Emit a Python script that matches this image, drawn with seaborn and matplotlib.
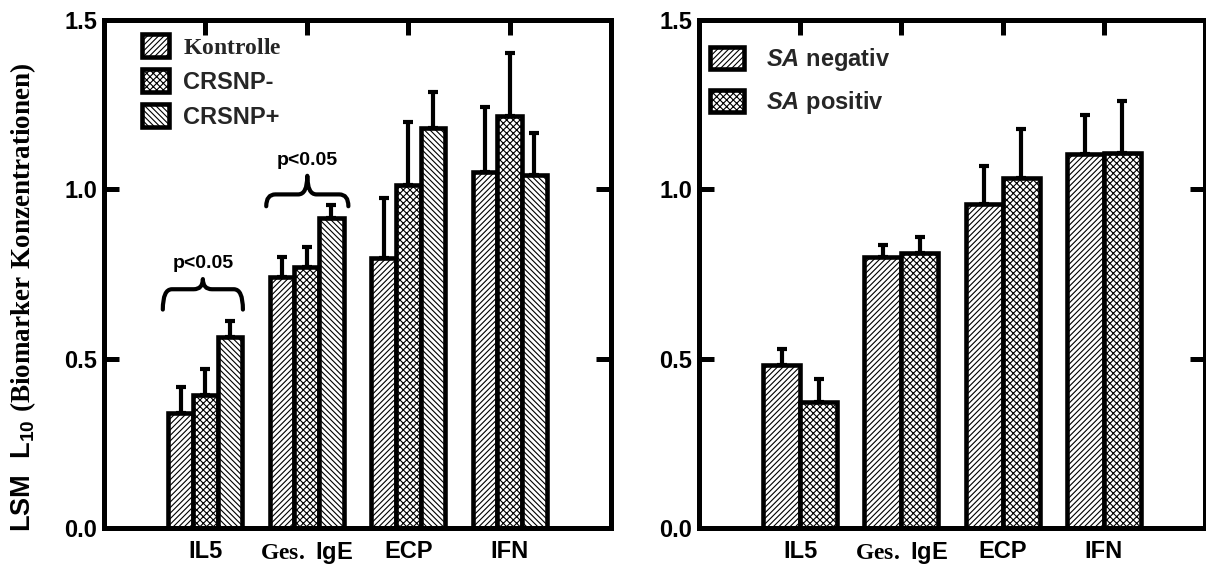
import numpy as np
import pandas as pd
import matplotlib
matplotlib.use("Agg")
import matplotlib.pyplot as plt
from matplotlib.patches import Patch, PathPatch
from matplotlib.path import Path
import seaborn as sns

# ---------------- data ----------------
categories = ["IL5", "Ges. IgE", "ECP", "IFN"]
cat_labels = ["IL5", r"$\mathrm{Ges.}\ \mathbf{IgE}$", "ECP", "IFN"]

left_groups = ["Kontrolle", "CRSNP-", "CRSNP+"]
left_labels = [r"$\mathrm{Kontrolle}$", "CRSNP-", "CRSNP+"]
kontrolle = [0.340, 0.741, 0.797, 1.051]
kontrolle_se = [0.076, 0.060, 0.177, 0.192]
crsnp_minus = [0.393, 0.771, 1.013, 1.216]
crsnp_minus_se = [0.076, 0.060, 0.186, 0.186]
crsnp_plus = [0.564, 0.915, 1.181, 1.042]
crsnp_plus_se = [0.047, 0.040, 0.106, 0.124]

right_groups = ["SA negativ", "SA positiv"]
right_labels = [r"$\mathit{SA}\ \mathbf{negativ}$", r"$\mathit{SA}\ \mathbf{positiv}$"]
sa_neg = [0.481, 0.800, 0.957, 1.104]
sa_neg_se = [0.047, 0.036, 0.113, 0.115]
sa_pos = [0.372, 0.812, 1.034, 1.107]
sa_pos_se = [0.068, 0.047, 0.145, 0.155]

yticks = [0.0, 0.5, 1.0, 1.5]
ytick_labels = ["0.0", "0.5", "1.0", "1.5"]

# significance braces (left panel): x-range, horizontal level, tip, end, text
sig_x0 = [-0.42, 0.60]
sig_x1 = [0.37, 1.41]
sig_yh = [0.705, 0.985]
sig_tip = [0.735, 1.040]
sig_end = [0.645, 0.950]
sig_text_y = [0.78, 1.085]
sig_text = ["p<0.05", "p<0.05"]

# ---------------- style ----------------
sns.set_theme(style="white")
plt.rcParams["font.family"] = ["Liberation Sans", "DejaVu Sans"]
plt.rcParams["font.weight"] = "bold"
plt.rcParams["mathtext.fontset"] = "custom"
plt.rcParams["mathtext.rm"] = "Liberation Serif:bold"
plt.rcParams["mathtext.bf"] = "Liberation Sans:bold"
plt.rcParams["mathtext.it"] = "Liberation Sans:bold:italic"
plt.rcParams["hatch.linewidth"] = 0.8
plt.rcParams["hatch.color"] = "black"

hatches_left = ["//////", "xxxxx", "\\\\\\\\\\\\"]
hatches_right = ["//////", "xxxxx"]

fig = plt.figure(figsize=(12.06, 5.67), dpi=100)
ax1 = fig.add_axes([104 / 1206, 39 / 567, 507 / 1206, 508 / 567])
ax2 = fig.add_axes([699 / 1206, 39 / 567, 506 / 1206, 508 / 567])

EDGE_LW = 3.3
FS = 17


def draw_panel(ax, groups, means, ses, hatches, labels):
    df = pd.DataFrame({
        "cat": np.repeat(categories, len(groups)),
        "grp": groups * len(categories),
        "val": np.array(means).T.ravel(),
    })
    sns.barplot(data=df, x="cat", y="val", hue="grp", order=categories,
                hue_order=groups, palette=["white"] * len(groups),
                width=0.73, errorbar=None, ax=ax, legend=False,
                edgecolor="black", linewidth=EDGE_LW, saturation=1)
    for cont, h, m, s in zip(ax.containers, hatches, means, ses):
        xs = []
        for bar in cont:
            bar.set_hatch(h)
            bar.set_edgecolor("black")
            bar.set_facecolor("white")
            bar.set_linewidth(EDGE_LW)
            xs.append(bar.get_x() + bar.get_width() / 2)
        ax.errorbar(xs, m, yerr=[np.zeros(len(s)), s], fmt="none",
                    ecolor="black", elinewidth=3.0, capsize=3.5,
                    capthick=3.0, zorder=1)
    handles = [Patch(facecolor="white", edgecolor="black", hatch=h,
                     linewidth=EDGE_LW, label=l) for h, l in zip(hatches, labels)]
    ax.set_xlim(-1, 4)
    ax.set_ylim(0, 1.5)
    ax.set_yticks(yticks)
    ax.set_yticklabels(ytick_labels)
    ax.set_xticks(range(len(categories)))
    ax.set_xticklabels(cat_labels)
    ax.set_xlabel("")
    ax.set_ylabel("")
    for sp in ax.spines.values():
        sp.set_visible(True)
        sp.set_linewidth(3.6)
        sp.set_color("black")
    ax.tick_params(axis="y", direction="in", left=True, right=True,
                   length=11, width=3.6, labelsize=FS, pad=5, colors="black")
    ax.tick_params(axis="x", direction="in", top=True, bottom=False,
                   labelbottom=True, length=11, width=3.6, labelsize=FS,
                   pad=9, colors="black")
    for t in ax.get_xticklabels() + ax.get_yticklabels():
        t.set_fontweight("bold")
    return handles


h1 = draw_panel(ax1, left_groups, [kontrolle, crsnp_minus, crsnp_plus],
                [kontrolle_se, crsnp_minus_se, crsnp_plus_se], hatches_left, left_labels)
h2 = draw_panel(ax2, right_groups, [sa_neg, sa_pos], [sa_neg_se, sa_pos_se],
                hatches_right, right_labels)

ax1.legend(handles=h1, loc="upper left", bbox_to_anchor=(0.075, 0.972),
           frameon=False, fontsize=FS, handlelength=1.15, handleheight=1.1,
           labelspacing=0.45, handletextpad=0.6, borderaxespad=0, borderpad=0)
ax2.legend(handles=h2, loc="upper left", bbox_to_anchor=(0.022, 0.948),
           frameon=False, fontsize=FS, handlelength=1.45, handleheight=1.05,
           labelspacing=0.68, handletextpad=0.9, borderaxespad=0, borderpad=0)


def brace(ax, x0, x1, yh, ytip, yend, r=0.09):
    xm = (x0 + x1) / 2
    verts = [(x0, yend), (x0, yh), (x0 + r, yh),
             (xm - r, yh), (xm, yh), (xm, ytip),
             (xm, yh), (xm + r, yh),
             (x1 - r, yh), (x1, yh), (x1, yend)]
    codes = [Path.MOVETO, Path.CURVE3, Path.CURVE3,
             Path.LINETO, Path.CURVE3, Path.CURVE3,
             Path.CURVE3, Path.CURVE3,
             Path.LINETO, Path.CURVE3, Path.CURVE3]
    ax.add_patch(PathPatch(Path(verts, codes), facecolor="none",
                           edgecolor="black", lw=3.0, capstyle="round",
                           joinstyle="round"))


for x0, x1, yh, yt, ye, ty, tx in zip(sig_x0, sig_x1, sig_yh, sig_tip,
                                      sig_end, sig_text_y, sig_text):
    brace(ax1, x0, x1, yh, yt, ye)
    ax1.text((x0 + x1) / 2, ty, tx, ha="center", va="center",
             fontsize=14, fontweight="bold", color="black")

ax1.set_ylabel(r"$\mathbf{LSM\ \ L_{10}}\ \mathrm{(Biomarker\ Konzentrationen)}$",
               fontsize=19.5, color="black")
ax1.yaxis.set_label_coords(-0.13, 0.455)

fig.savefig("out.png", dpi=100)
